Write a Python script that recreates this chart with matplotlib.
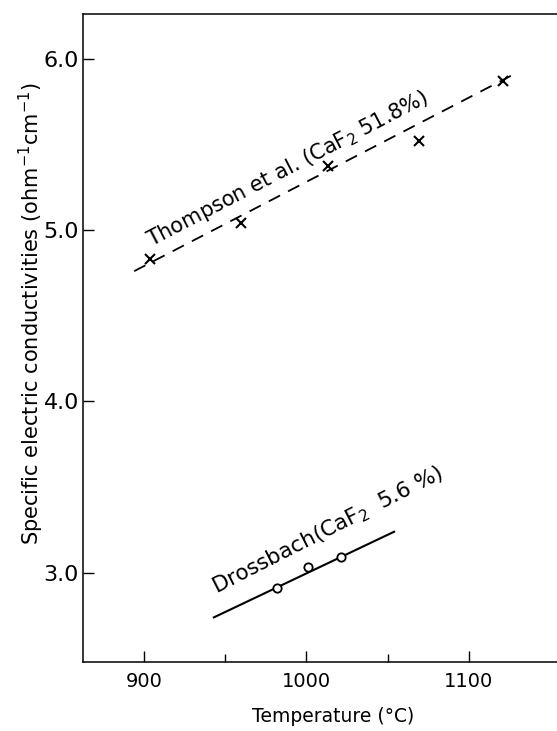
import matplotlib
matplotlib.use("Agg")
import matplotlib.pyplot as plt

# Thompson et al. (CaF2 51.8%)
thompson_t = [904, 960, 1013, 1069, 1121]
thompson_k = [4.83, 5.04, 5.375, 5.52, 5.87]
thompson_fit_t = [894, 1130]
thompson_fit_k = [4.76, 5.92]

# Drossbach (CaF2 5.6%)
drossbach_t = [982, 1001, 1021]
drossbach_k = [2.91, 3.035, 3.09]
drossbach_fit_t = [943, 1054]
drossbach_fit_k = [2.74, 3.24]

xticks = [900, 1000, 1100]
xminor = [950, 1050]
yticks = [3.0, 4.0, 5.0, 6.0]

plt.rcParams['font.family'] = ['DejaVu Sans']

fig = plt.figure(figsize=(5.57, 7.31), dpi=100)
ax = fig.add_axes([0.149, 0.0944, 0.897, 0.8864])

ax.plot(thompson_fit_t, thompson_fit_k, color='black', lw=1.3, dashes=(7, 5))
ax.plot(thompson_t, thompson_k, linestyle='none', marker='x', color='black',
        markersize=7, markeredgewidth=1.5)

ax.plot(drossbach_fit_t, drossbach_fit_k, color='black', lw=1.5)
ax.plot(drossbach_t, drossbach_k, linestyle='none', marker='o', color='black',
        markerfacecolor='white', markersize=6, markeredgewidth=1.3)

ax.text(906, 4.87, 'Thompson et al. (CaF$_2$ 51.8%)', rotation=27.5,
        rotation_mode='anchor', fontsize=15, ha='left', va='bottom')
ax.text(946, 2.85, 'Drossbach(CaF$_2$  5.6 %)', rotation=27,
        rotation_mode='anchor', fontsize=15.5, ha='left', va='bottom')

ax.set_xlim(862.5, 1170)
ax.set_ylim(2.48, 6.26)
ax.set_xticks(xticks)
ax.set_xticks(xminor, minor=True)
ax.set_yticks(yticks)
ax.set_yticklabels(['%.1f' % v for v in yticks])
ax.tick_params(axis='both', direction='in', length=8, width=1, colors='black')
ax.tick_params(axis='x', which='major', labelsize=14, pad=7)
ax.tick_params(axis='x', which='minor', direction='in', length=6, width=1)
ax.tick_params(axis='y', labelsize=16, pad=3)
ax.spines['right'].set_visible(False)
for s in ['left', 'bottom', 'top']:
    ax.spines[s].set_linewidth(1.1)

ax.set_xlabel('Temperature (°C)', fontsize=13.5, labelpad=12)
ax.set_ylabel('Specific electric conductivities (ohm$^{-1}$cm$^{-1}$)', fontsize=15, labelpad=2)
ax.yaxis.set_label_coords(-0.075, 0.537)

fig.savefig('out.png', dpi=100)
